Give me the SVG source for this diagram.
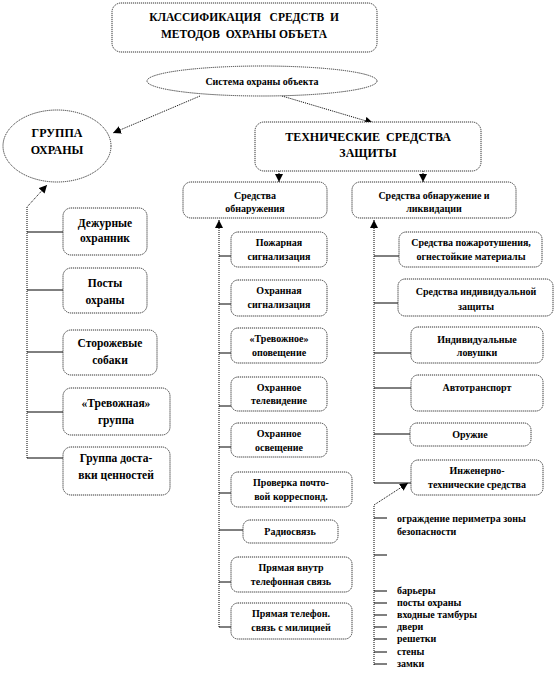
<svg xmlns="http://www.w3.org/2000/svg" width="558" height="678" viewBox="0 0 558 678">
<defs>
<marker id="ah" viewBox="0 0 10 10" refX="10" refY="5" markerWidth="8" markerHeight="8" markerUnits="userSpaceOnUse" orient="auto">
<path d="M0,0 L10,5 L0,10 z" fill="#000"/>
</marker>
</defs>
<style>
.box{fill:#fff;stroke:#333;stroke-width:1;stroke-dasharray:1.2 0.8}
.t{font-family:"Liberation Serif","Times New Roman",serif;font-weight:bold;fill:#000;text-anchor:middle;white-space:pre}
.s{font-size:10px}
.m{font-size:11.5px}
.l{font-size:12px}
.li{font-family:"Liberation Serif","Times New Roman",serif;font-weight:bold;fill:#000;font-size:10px}
.br{stroke:#000;stroke-width:1;fill:none}
.dt{stroke:#000;stroke-width:1;fill:none;stroke-dasharray:1 1}
</style>
<rect width="558" height="678" fill="#fff"/>

<g id="connectors">
<line class="dt" x1="200" y1="96" x2="113" y2="133" marker-end="url(#ah)"/>
<line class="dt" x1="282" y1="96" x2="373" y2="123" marker-end="url(#ah)"/>
<line class="dt" x1="279" y1="171" x2="279" y2="182" marker-end="url(#ah)"/>
<line class="dt" x1="423" y1="171" x2="423" y2="182" marker-end="url(#ah)"/>
<path class="dt" d="M27,458 L27,207 L47,185" marker-end="url(#ah)"/>
<line class="dt" x1="219" y1="627" x2="219" y2="220" marker-end="url(#ah)"/>
<line class="dt" x1="374" y1="483" x2="374" y2="220" marker-end="url(#ah)"/>
<path class="dt" d="M374,665 L374,505 L408,483" marker-end="url(#ah)"/>
<line class="br" x1="27" y1="232" x2="63" y2="232"/>
<line class="br" x1="27" y1="290" x2="63" y2="290"/>
<line class="br" x1="27" y1="352" x2="63" y2="352"/>
<line class="br" x1="27" y1="412" x2="63" y2="412"/>
<line class="br" x1="27" y1="458" x2="63" y2="458"/>
<line class="br" x1="219" y1="256" x2="231" y2="256"/>
<line class="br" x1="219" y1="304" x2="231" y2="304"/>
<line class="br" x1="219" y1="353" x2="231" y2="353"/>
<line class="br" x1="219" y1="406" x2="231" y2="406"/>
<line class="br" x1="219" y1="447" x2="231" y2="447"/>
<line class="br" x1="219" y1="493" x2="231" y2="493"/>
<line class="br" x1="219" y1="530" x2="243" y2="530"/>
<line class="br" x1="219" y1="582" x2="231" y2="582"/>
<line class="br" x1="219" y1="627" x2="231" y2="627"/>
<line class="br" x1="374" y1="256" x2="399" y2="256"/>
<line class="br" x1="374" y1="303" x2="398" y2="303"/>
<line class="br" x1="374" y1="353" x2="411" y2="353"/>
<line class="br" x1="374" y1="388" x2="411" y2="388"/>
<line class="br" x1="374" y1="434" x2="410" y2="434"/>
<line class="br" x1="374" y1="483" x2="411" y2="483"/>
<line class="br" x1="374" y1="518" x2="387" y2="518"/>
<line class="br" x1="374" y1="555" x2="387" y2="555"/>
<line class="br" x1="374" y1="591" x2="387" y2="591"/>
<line class="br" x1="374" y1="603" x2="387" y2="603"/>
<line class="br" x1="374" y1="615" x2="387" y2="615"/>
<line class="br" x1="374" y1="627" x2="387" y2="627"/>
<line class="br" x1="374" y1="639" x2="387" y2="639"/>
<line class="br" x1="374" y1="652" x2="387" y2="652"/>
<line class="br" x1="374" y1="664" x2="387" y2="664"/>
</g>

<g id="title">
<rect class="box" x="112" y="3" width="265" height="49" rx="9"/>
<text class="t m" x="244" y="21" xml:space="preserve">КЛАССИФИКАЦИЯ   СРЕДСТВ  И</text>
<text class="t m" x="244" y="38" xml:space="preserve">МЕТОДОВ  ОХРАНЫ ОБЪЕТА</text>
</g>
<g id="system">
<ellipse class="box" cx="262" cy="81" rx="115" ry="15"/>
<text class="t s" x="262" y="85">Система охраны объекта</text>
</g>
<g id="group">
<ellipse class="box" cx="57" cy="146" rx="54" ry="36"/>
<text class="t l" x="57" y="137">ГРУППА</text>
<text class="t l" x="57" y="154">ОХРАНЫ</text>
</g>
<g id="tech">
<rect class="box" x="255" y="122" width="226" height="49" rx="9"/>
<text class="t l" x="368" y="141" xml:space="preserve">ТЕХНИЧЕСКИЕ  СРЕДСТВА</text>
<text class="t l" x="368" y="157">ЗАЩИТЫ</text>
</g>

<g id="left1"><rect class="box" x="63" y="208" width="84" height="47" rx="8"/><text class="t m" x="105" y="227">Дежурные</text><text class="t m" x="105" y="242">охранник</text></g>
<g id="left2"><rect class="box" x="63" y="268" width="84" height="45" rx="8"/><text class="t m" x="105" y="287">Посты</text><text class="t m" x="105" y="304">охраны</text></g>
<g id="left3"><rect class="box" x="63" y="330" width="94" height="45" rx="8"/><text class="t m" x="110" y="347">Сторожевые</text><text class="t m" x="110" y="364">собаки</text></g>
<g id="left4"><rect class="box" x="63" y="388" width="107" height="47" rx="8"/><text class="t m" x="116" y="407">«Тревожная»</text><text class="t m" x="116" y="424">группа</text></g>
<g id="left5"><rect class="box" x="63" y="447" width="107" height="48" rx="8"/><text class="t m" x="116" y="462">Группа доста-</text><text class="t m" x="116" y="479">вки ценностей</text></g>

<g id="detect"><rect class="box" x="183" y="182" width="144" height="36" rx="8"/><text class="t s" x="255" y="199">Средства</text><text class="t s" x="255" y="212">обнаружения</text></g>
<g id="mid1"><rect class="box" x="231" y="232" width="96" height="35" rx="7"/><text class="t s" x="279" y="246">Пожарная</text><text class="t s" x="279" y="260">сигнализация</text></g>
<g id="mid2"><rect class="box" x="231" y="280" width="96" height="36" rx="7"/><text class="t s" x="279" y="294">Охранная</text><text class="t s" x="279" y="308">сигнализация</text></g>
<g id="mid3"><rect class="box" x="231" y="328" width="96" height="35" rx="7"/><text class="t s" x="279" y="342">«Тревожное»</text><text class="t s" x="279" y="356">оповещение</text></g>
<g id="mid4"><rect class="box" x="231" y="377" width="96" height="34" rx="7"/><text class="t s" x="279" y="391">Охранное</text><text class="t s" x="279" y="404">телевидение</text></g>
<g id="mid5"><rect class="box" x="231" y="423" width="96" height="34" rx="7"/><text class="t s" x="279" y="437">Охранное</text><text class="t s" x="279" y="451">освещение</text></g>
<g id="mid6"><rect class="box" x="231" y="472" width="121" height="35" rx="7"/><text class="t s" x="291" y="486">Проверка почто-</text><text class="t s" x="291" y="500">вой корреспонд.</text></g>
<g id="mid7"><rect class="box" x="243" y="520" width="95" height="23" rx="7"/><text class="t s" x="290" y="535">Радиосвязь</text></g>
<g id="mid8"><rect class="box" x="231" y="557" width="121" height="35" rx="7"/><text class="t s" x="291" y="571">Прямая внутр</text><text class="t s" x="291" y="585">телефонная связь</text></g>
<g id="mid9"><rect class="box" x="231" y="603" width="121" height="36" rx="7"/><text class="t s" x="291" y="617">Прямая телефон.</text><text class="t s" x="291" y="631">связь с милицией</text></g>

<g id="liquid"><rect class="box" x="352" y="182" width="164" height="36" rx="8"/><text class="t s" x="434" y="199">Средства обнаружение и</text><text class="t s" x="434" y="212">ликвидации</text></g>
<g id="right1"><rect class="box" x="399" y="232" width="143" height="35" rx="7"/><text class="t s" x="471" y="246">Средства пожаротушения,</text><text class="t s" x="471" y="260">огнестойкие материалы</text></g>
<g id="right2"><rect class="box" x="398" y="279" width="155" height="37" rx="7"/><text class="t s" x="476" y="295">Средства индивидуальной</text><text class="t s" x="476" y="310">защиты</text></g>
<g id="right3"><rect class="box" x="411" y="327" width="132" height="36" rx="7"/><text class="t s" x="477" y="343">Индивидуальные</text><text class="t s" x="477" y="356">ловушки</text></g>
<g id="right4"><rect class="box" x="411" y="375" width="132" height="36" rx="7"/><text class="t s" x="477" y="391">Автотранспорт</text></g>
<g id="right5"><rect class="box" x="410" y="423" width="121" height="23" rx="7"/><text class="t s" x="470" y="438">Оружие</text></g>
<g id="right6"><rect class="box" x="411" y="460" width="132" height="35" rx="7"/><text class="t s" x="477" y="474">Инженерно-</text><text class="t s" x="477" y="488">технические средства</text></g>

<g id="list">
<text class="li" x="397" y="521.5">ограждение периметра зоны</text>
<text class="li" x="397" y="535">безопасности</text>
<text class="li" x="397" y="594">барьеры</text>
<text class="li" x="397" y="606">посты охраны</text>
<text class="li" x="397" y="618">входные тамбуры</text>
<text class="li" x="397" y="630">двери</text>
<text class="li" x="397" y="642">решетки</text>
<text class="li" x="397" y="655">стены</text>
<text class="li" x="397" y="667">замки</text>
</g>
</svg>
